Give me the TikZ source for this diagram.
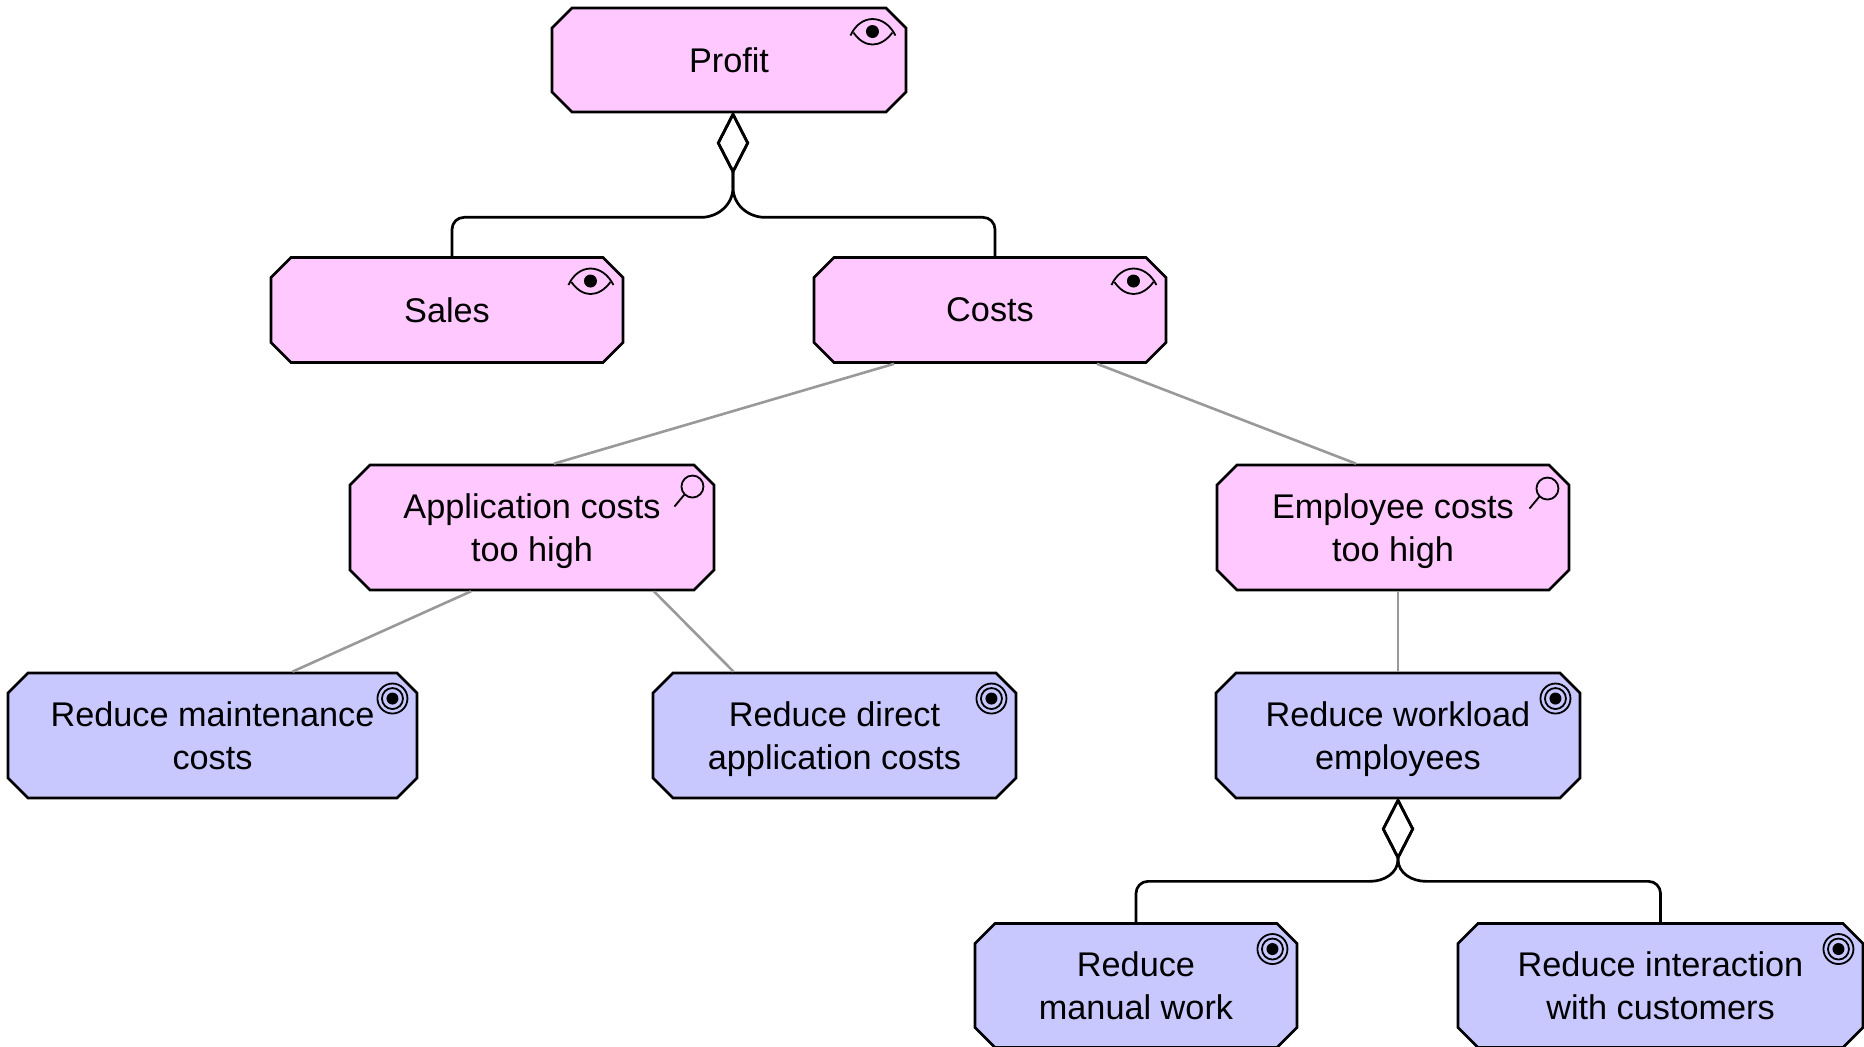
\documentclass[tikz,border=0pt]{standalone}
\usepackage{fontspec}
\setmainfont{Liberation Sans}
\usetikzlibrary{shapes.misc,arrows.meta,calc}

\newcommand{\unitpx}{0.02cm}

\definecolor{motivpink}{RGB}{255,200,255}
\definecolor{goalblue}{RGB}{200,200,255}
\definecolor{assocgray}{RGB}{153,153,153}

\tikzset{
	archbox/.style={chamfered rectangle, chamfered rectangle xsep=10*\unitpx, chamfered rectangle ysep=10*\unitpx,
		draw=black, line width=2.7*\unitpx, inner sep=0pt, align=center,
		font=\fontsize{19.5}{24.5}\selectfont},
	driver/.style={archbox, fill=motivpink},
	goal/.style={archbox, fill=goalblue},
	assoc/.style={draw=assocgray, line width=2.6*\unitpx},
	aggr/.style={draw=black, line width=2.7*\unitpx, {Diamond[open,length=36pt,width=18.5pt]}-},
	eyeicon/.pic={
		\draw [line width=1.8*\unitpx] (-22,4) .. controls (-12,-18) and (12,-18) .. (23,4);
		\draw [line width=1.8*\unitpx] (-19,1) .. controls (-8,17) and (8,17) .. (20,1);
		\fill (0,0) circle (6.5);
	},
	lensicon/.pic={
		\draw [line width=1.8*\unitpx] (0,0) circle (11);
		\draw [line width=1.8*\unitpx] (-8,8) -- (-18,20);
	},
	targeticon/.pic={
		\draw [line width=1.8*\unitpx] (0,0) circle (15);
		\draw [line width=1.8*\unitpx] (0,0) circle (10.5);
		\fill (0,0) circle (6);
	},
}

\begin{document}
\begin{tikzpicture}[x=\unitpx, y=-\unitpx]
	\useasboundingbox (0,0) rectangle (1864,1047);

	\node [driver, minimum width=354*\unitpx, minimum height=104*\unitpx] (profit) at (729,60) {Profit};
	\node [driver, minimum width=352*\unitpx, minimum height=105*\unitpx] (sales) at (447,310) {Sales};
	\node [driver, minimum width=352*\unitpx, minimum height=105*\unitpx] (costs) at (990,310) {Costs};
	\node [driver, minimum width=364*\unitpx, minimum height=125*\unitpx] (appcosts) at (532,527.5) {Application costs\\\smash{too high}};
	\node [driver, minimum width=352*\unitpx, minimum height=125*\unitpx] (empcosts) at (1393,527.5) {Employee costs\\\smash{too high}};
	\node [goal, minimum width=409*\unitpx, minimum height=125*\unitpx] (maintenance) at (212.5,735.5) {Reduce maintenance\\costs};
	\node [goal, minimum width=363*\unitpx, minimum height=125*\unitpx] (direct) at (834.5,735.5) {Reduce direct\\\smash{application costs}};
	\node [goal, minimum width=364*\unitpx, minimum height=125*\unitpx] (workload) at (1398,735.5) {Reduce workload\\\smash{employees}};
	\node [goal, minimum width=322*\unitpx, minimum height=124*\unitpx] (manual) at (1136,985.5) {Reduce\\manual work};
	\node [goal, minimum width=405*\unitpx, minimum height=124*\unitpx] (interaction) at (1660.5,985.5) {Reduce interaction\\with customers};

	% icons
	\pic at ($(profit.north east)+(-24.5,14.5)$) {eyeicon};
	\pic at ($(sales.north east)+(-23.5,14.5)$) {eyeicon};
	\pic at ($(costs.north east)+(-23.5,14.5)$) {eyeicon};
	\pic at ($(appcosts.north east)+(-12.5,12.5)$) {lensicon};
	\pic at ($(empcosts.north east)+(-12.5,14.5)$) {lensicon};
	\pic at ($(maintenance.north east)+(-15.5,16.5)$) {targeticon};
	\pic at ($(direct.north east)+(-15.5,16.5)$) {targeticon};
	\pic at ($(workload.north east)+(-15.5,16.5)$) {targeticon};
	\pic at ($(manual.north east)+(-15.5,16.5)$) {targeticon};
	\pic at ($(interaction.north east)+(-15.5,16.5)$) {targeticon};

	\draw [assoc] ($(costs.south)+(-96,0)$) -- ($(appcosts.north)+(22,0)$);
	\draw [assoc] ($(costs.south)+(107,0)$) -- ($(empcosts.north)+(-37,0)$);
	\draw [assoc] ($(appcosts.south)+(-61,0)$) -- ($(maintenance.north)+(80,0)$);
	\draw [assoc] ($(appcosts.south)+(122,0)$) -- ($(direct.north)+(-101,0)$);
	\draw [assoc] ($(empcosts.south)+(5,0)$) -- (workload.north);

	\draw [aggr] ($(profit.south)+(4,-2)$) -- ++(0,76) to[out=-90,in=0] ++(-32,30) [rounded corners=12*\unitpx] -| ($(sales.north)+(5,0)$);
	\draw [aggr] ($(profit.south)+(4,-2)$) -- ++(0,76) to[out=-90,in=180] ++(32,30) [rounded corners=12*\unitpx] -| ($(costs.north)+(5,0)$);
	\draw [aggr] ($(workload.south)+(0,-2)$) -- ++(0,62) to[out=-90,in=0] ++(-28,22) [rounded corners=12*\unitpx] -| (manual.north);
	\draw [aggr] ($(workload.south)+(0,-2)$) -- ++(0,62) to[out=-90,in=180] ++(28,22) [rounded corners=12*\unitpx] -| (interaction.north);
\end{tikzpicture}
\end{document}
